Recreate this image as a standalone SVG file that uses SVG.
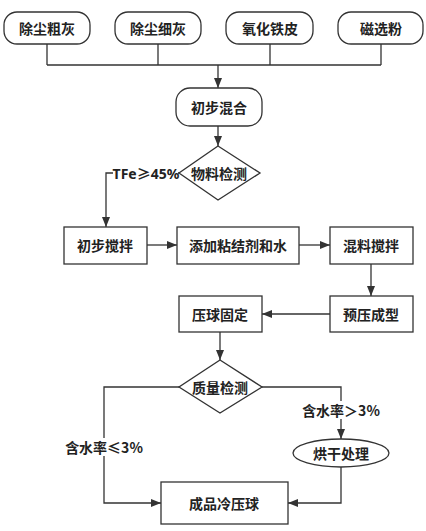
<svg xmlns="http://www.w3.org/2000/svg" width="426" height="531" viewBox="0 0 426 531">
<style>
.n{fill:#fff;stroke:#333;stroke-width:1.3}
.t{font-family:"Noto Sans CJK SC","Noto Sans",sans-serif;font-size:14px;font-weight:bold;fill:#222;text-anchor:middle;dominant-baseline:central}
.l{font-family:"Noto Sans","Noto Sans CJK SC",sans-serif}
.c{fill:none;stroke:#333;stroke-width:1.3}
.lb{fill:#fff}
</style>
<defs>
<marker id="a" viewBox="0 0 10 10" refX="10" refY="5" markerWidth="10" markerHeight="10" markerUnits="userSpaceOnUse" orient="auto">
<path d="M0,1 L10,5 L0,9 z" fill="#333"/>
</marker>
</defs>
<rect width="426" height="531" fill="#fff"/>
<g id="connectors">
<path class="c" d="M47,44 V65 M158,44 V65 M270,44 V65 M381,44 V65 M47,65 H381"/>
<path class="c" d="M218,65 V88" marker-end="url(#a)"/>
<path class="c" d="M218,126 V146" marker-end="url(#a)"/>
<path class="c" d="M179,173 H106 V227" marker-end="url(#a)"/>
<path class="c" d="M147,245 H177" marker-end="url(#a)"/>
<path class="c" d="M299,245 H330" marker-end="url(#a)"/>
<path class="c" d="M371,264 V296" marker-end="url(#a)"/>
<path class="c" d="M330,314 H262" marker-end="url(#a)"/>
<path class="c" d="M220,332 V360" marker-end="url(#a)"/>
<path class="c" d="M179,387 H104 V503 H161" marker-end="url(#a)"/>
<path class="c" d="M262,387 H341 V439" marker-end="url(#a)"/>
<path class="c" d="M341,467 V503 H288" marker-end="url(#a)"/>
<rect class="lb" x="113" y="164" width="65" height="18"/>
<text class="t l" x="146" y="173">TFe≥45%</text>
<rect class="lb" x="303" y="401" width="76" height="18"/>
<text class="t" x="341" y="410">含水率＞3%</text>
<rect class="lb" x="66" y="438" width="76" height="18"/>
<text class="t" x="104" y="447">含水率≤3%</text>
</g>
<g id="n1"><rect class="n" x="4" y="12" width="86" height="32" rx="13"/><text class="t" x="47" y="28">除尘粗灰</text></g>
<g id="n2"><rect class="n" x="115" y="12" width="86" height="32" rx="13"/><text class="t" x="158" y="28">除尘细灰</text></g>
<g id="n3"><rect class="n" x="226" y="12" width="87" height="32" rx="13"/><text class="t" x="270" y="28">氧化铁皮</text></g>
<g id="n4"><rect class="n" x="338" y="12" width="85" height="32" rx="13"/><text class="t" x="381" y="28">磁选粉</text></g>
<g id="n5"><rect class="n" x="176" y="88" width="86" height="38" rx="14"/><text class="t" x="219" y="107">初步混合</text></g>
<g id="n6"><polygon class="n" points="218,146 260,173 218,200 179,173"/><text class="t" x="219" y="173">物料检测</text></g>
<g id="n7"><rect class="n" x="64" y="227" width="83" height="37"/><text class="t" x="105" y="245">初步搅拌</text></g>
<g id="n8"><rect class="n" x="177" y="227" width="122" height="37"/><text class="t" x="238" y="245">添加粘结剂和水</text></g>
<g id="n9"><rect class="n" x="330" y="227" width="83" height="37"/><text class="t" x="371" y="245">混料搅拌</text></g>
<g id="n10"><rect class="n" x="330" y="296" width="83" height="36"/><text class="t" x="371" y="314">预压成型</text></g>
<g id="n11"><rect class="n" x="179" y="296" width="83" height="36"/><text class="t" x="220" y="314">压球固定</text></g>
<g id="n12"><polygon class="n" points="220,360 262,387 220,413 179,387"/><text class="t" x="220" y="387">质量检测</text></g>
<g id="n13"><ellipse class="n" cx="341" cy="453" rx="48" ry="14"/><text class="t" x="341" y="453">烘干处理</text></g>
<g id="n14"><rect class="n" x="161" y="482" width="127" height="42"/><text class="t" x="224" y="503">成品冷压球</text></g>
</svg>
